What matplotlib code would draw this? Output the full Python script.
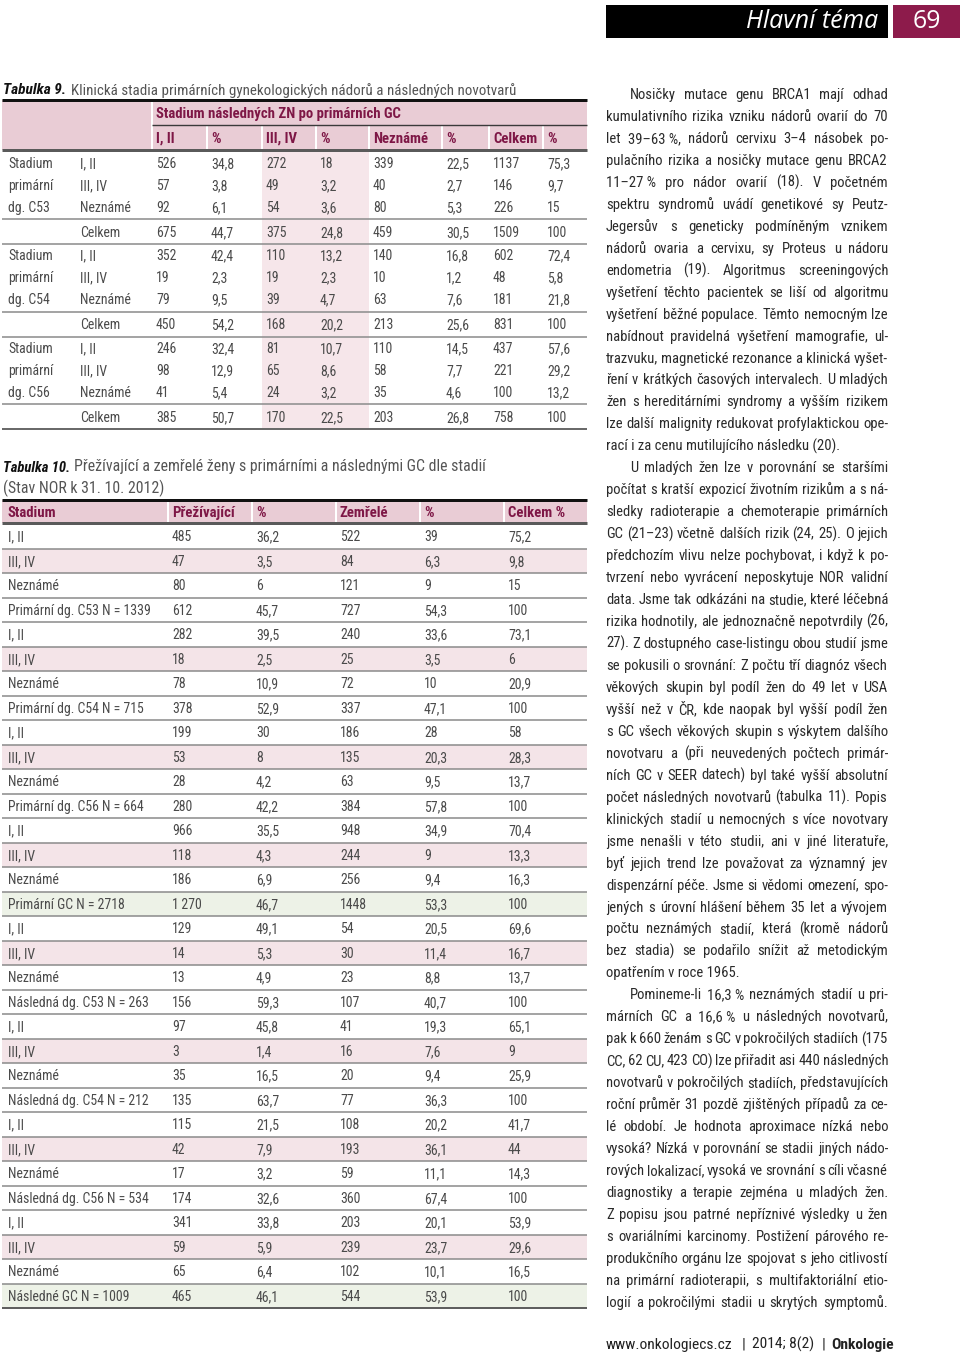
import matplotlib
matplotlib.use('Agg')
import matplotlib.pyplot as plt
from matplotlib import font_manager as fm
from matplotlib.patches import Rectangle

# ---------------------------------------------------------------- data
t9_title_lead = 'Tabulka 9.'
t9_title = 'Klinická stadia primárních gynekologických nádorů a následných novotvarů'
t9_super_header = 'Stadium následných ZN po primárních GC'
t9_columns = ['I, II', '%', 'III, IV', '%', 'Neznámé', '%', 'Celkem', '%']
t9_row_stages = ['I, II', 'III, IV', 'Neznámé', 'Celkem']
t9_group_labels = [['Stadium', 'primární', 'dg. C53'],
                   ['Stadium', 'primární', 'dg. C54'],
                   ['Stadium', 'primární', 'dg. C56']]
t9_c53 = [[526, 34.8, 272, 18, 339, 22.5, 1137, 75.3],
          [57, 3.8, 49, 3.2, 40, 2.7, 146, 9.7],
          [92, 6.1, 54, 3.6, 80, 5.3, 226, 15],
          [675, 44.7, 375, 24.8, 459, 30.5, 1509, 100]]
t9_c54 = [[352, 42.4, 110, 13.2, 140, 16.8, 602, 72.4],
          [19, 2.3, 19, 2.3, 10, 1.2, 48, 5.8],
          [79, 9.5, 39, 4.7, 63, 7.6, 181, 21.8],
          [450, 54.2, 168, 20.2, 213, 25.6, 831, 100]]
t9_c56 = [[246, 32.4, 81, 10.7, 110, 14.5, 437, 57.6],
          [98, 12.9, 65, 8.6, 58, 7.7, 221, 29.2],
          [41, 5.4, 24, 3.2, 35, 4.6, 100, 13.2],
          [385, 50.7, 170, 22.5, 203, 26.8, 758, 100]]

t10_title_lead = 'Tabulka 10.'
t10_title = 'Přežívající a zemřelé ženy s primárními a následnými GC dle stadií'
t10_title2 = '(Stav NOR k 31. 10. 2012)'
t10_columns = ['Stadium', 'Přežívající', '%', 'Zemřelé', '%', 'Celkem %']
t10_labels = ['I, II', 'III, IV', 'Neznámé', 'Primární dg. C53 N = 1339',
              'I, II', 'III, IV', 'Neznámé', 'Primární dg. C54 N = 715',
              'I, II', 'III, IV', 'Neznámé', 'Primární dg. C56 N = 664',
              'I, II', 'III, IV', 'Neznámé', 'Primární GC N = 2718',
              'I, II', 'III, IV', 'Neznámé', 'Následná dg. C53 N = 263',
              'I, II', 'III, IV', 'Neznámé', 'Následná dg. C54 N = 212',
              'I, II', 'III, IV', 'Neznámé', 'Následná dg. C56 N = 534',
              'I, II', 'III, IV', 'Neznámé', 'Následné GC N = 1009']
t10_surv = [485, 47, 80, 612, 282, 18, 78, 378, 199, 53, 28, 280,
            966, 118, 186, '1\u2009270', 129, 14, 13, 156, 97, 3, 35, 135,
            115, 42, 17, 174, 341, 59, 65, 465]
t10_surv_pct = [36.2, 3.5, 6, 45.7, 39.5, 2.5, 10.9, 52.9, 30, 8, 4.2, 42.2,
                35.5, 4.3, 6.9, 46.7, 49.1, 5.3, 4.9, 59.3, 45.8, 1.4, 16.5, 63.7,
                21.5, 7.9, 3.2, 32.6, 33.8, 5.9, 6.4, 46.1]
t10_dead = [522, 84, 121, 727, 240, 25, 72, 337, 186, 135, 63, 384,
            948, 244, 256, 1448, 54, 30, 23, 107, 41, 16, 20, 77,
            108, 193, 59, 360, 203, 239, 102, 544]
t10_dead_pct = [39, 6.3, 9, 54.3, 33.6, 3.5, 10, 47.1, 28, 20.3, 9.5, 57.8,
                34.9, 9, 9.4, 53.3, 20.5, 11.4, 8.8, 40.7, 19.3, 7.6, 9.4, 36.3,
                20.2, 36.1, 11.1, 67.4, 20.1, 23.7, 10.1, 53.9]
t10_total_pct = [75.2, 9.8, 15, 100, 73.1, 6, 20.9, 100, 58, 28.3, 13.7, 100,
                 70.4, 13.3, 16.3, 100, 69.6, 16.7, 13.7, 100, 65.1, 9, 25.9, 100,
                 41.7, 44, 14.3, 100, 53.9, 29.6, 16.5, 100]

header_section = 'Hlavní téma'
page_number = '69'
footer_parts = ['www.onkologiecs.cz', '|', '2014; 8(2)', '|', 'Onkologie']

NB = '\u00a0'
body_paragraphs = [
    ['Nosičky mutace genu BRCA1 mají odhad',
     'kumulativního rizika vzniku nádorů ovarií do 70',
     'let 39–63' + NB + '%, nádorů cervixu 3–4 násobek po-',
     'pulačního rizika a nosičky mutace genu BRCA2',
     '11–27' + NB + '% pro nádor ovarií (18). V početném',
     'spektru syndromů uvádí genetikové sy Peutz-',
     'Jegersův s geneticky podmíněným vznikem',
     'nádorů ovaria a cervixu, sy Proteus u nádoru',
     'endometria (19). Algoritmus screeningových',
     'vyšetření těchto pacientek se liší od algoritmu',
     'vyšetření běžné populace. Těmto nemocným lze',
     'nabídnout pravidelná vyšetření mamografie, ul-',
     'trazvuku, magnetické rezonance a klinická vyšet-',
     'ření v krátkých časových intervalech. U mladých',
     'žen s hereditárními syndromy a vyšším rizikem',
     'lze další malignity redukovat profylaktickou ope-',
     'rací i za cenu mutilujícího následku (20).'],
    ['U mladých žen lze v porovnání se staršími',
     'počítat s kratší expozicí životním rizikům a s ná-',
     'sledky radioterapie a chemoterapie primárních',
     'GC (21–23) včetně dalších rizik (24, 25). O jejich',
     'předchozím vlivu nelze pochybovat, i když k po-',
     'tvrzení nebo vyvrácení neposkytuje NOR validní',
     'data. Jsme tak odkázáni na studie, které léčebná',
     'rizika hodnotily, ale jednoznačně nepotvrdily (26,',
     '27). Z dostupného case-listingu obou studií jsme',
     'se pokusili o srovnání: Z počtu tří diagnóz všech',
     'věkových skupin byl podíl žen do 49 let v USA',
     'vyšší než v ČR, kde naopak byl vyšší podíl žen',
     's GC všech věkových skupin s výskytem dalšího',
     'novotvaru a (při neuvedených počtech primár-',
     'ních GC v SEER datech) byl také vyšší absolutní',
     'počet následných novotvarů (tabulka 11). Popis',
     'klinických stadií u nemocných s více novotvary',
     'jsme nenašli v této studii, ani v jiné literatuře,',
     'byť jejich trend lze považovat za významný jev',
     'dispenzární péče. Jsme si vědomi omezení, spo-',
     'jených s úrovní hlášení během 35 let a vývojem',
     'počtu neznámých stadií, která (kromě nádorů',
     'bez stadia) se podařilo snížit až metodickým',
     'opatřením v roce 1965.'],
    ['Pomineme-li 16,3' + NB + '% neznámých stadií u pri-',
     'márních GC a 16,6' + NB + '% u následných novotvarů,',
     'pak k 660 ženám s GC v pokročilých stadiích (175',
     'CC, 62 CU, 423 CO) lze přiřadit asi 440 následných',
     'novotvarů v pokročilých stadiích, představujících',
     'roční průměr 31 pozdě zjištěných případů za ce-',
     'lé období. Je hodnota aproximace nízká nebo',
     'vysoká? Nízká v porovnání se stadii jiných nádo-',
     'rových lokalizací, vysoká ve srovnání s cíli včasné',
     'diagnostiky a terapie zejména u mladých žen.',
     'Z popisu jsou patrné nepříznivé výsledky u žen',
     's ovariálními karcinomy. Postižení párového re-',
     'produkčního orgánu lze spojovat s jeho citlivostí',
     'na primární radioterapii, s multifaktoriální etio-',
     'logií a pokročilými stadii u skrytých symptomů.'],
]
ragged_last = [True, True, False]

# ---------------------------------------------------------------- setup
def pick(names):
    for n in names:
        try:
            fm.findfont(fm.FontProperties(family=n), fallback_to_default=False)
            return n
        except Exception:
            pass
    return 'DejaVu Sans'

NARROW = pick(['Liberation Sans Narrow', 'Roboto Condensed', 'Open Sans Condensed', 'Roboto', 'Lato'])
WIDE = pick(['Open Sans', 'Noto Sans', 'Lato', 'DejaVu Sans'])

MAROON_TXT = '#7e1746'
MAROON_BOX = '#8d1b4b'
PINK_HEAD = '#e9ccd5'
PINK_COL = '#f6e6ea'
PINK_ROW = '#f4e4e8'
GREEN_ROW = '#edf2e7'
GRID = '#8f8f8f'
TXT = '#4a4a4a'
BODY = '#2a2a2a'

W, H = 960, 1356
fig = plt.figure(figsize=(W / 100, H / 100), dpi=100)
fig.patch.set_facecolor('white')
ax = fig.add_axes([0, 0, 1, 1])
ax.set_xlim(0, W)
ax.set_ylim(H, 0)
ax.axis('off')
R = fig.canvas.get_renderer()


def T(x, y, s, px, fam=None, weight='normal', style='normal', color=TXT, ha='left'):
    fam = fam or [NARROW, 'DejaVu Sans']
    return ax.text(x, y, s, fontsize=px * 0.72, family=fam, fontweight=weight,
                   fontstyle=style, color=color, ha=ha, va='baseline')


def tw(s, px, **kw):
    t = T(0, 0, s, px, **kw)
    w = t.get_window_extent(R).width
    t.remove()
    return w


def fit(s, target, **kw):
    return 20 * target / tw(s, 20, **kw)


def rect(x, y, w, h, c):
    ax.add_patch(Rectangle((x, y), w, h, facecolor=c, edgecolor='none', lw=0))


def hline(y, x0, x1, c, px):
    ax.plot([x0, x1], [y, y], color=c, lw=px * 0.72, solid_capstyle='butt')


def vline(x, y0, y1, c, px):
    ax.plot([x, x], [y0, y1], color=c, lw=px * 0.72, solid_capstyle='butt')


def fmt(v):
    if isinstance(v, str):
        return v
    if float(v).is_integer():
        return str(int(v))
    return str(v).replace('.', ',')


# ---------------------------------------------------------------- page header
rect(606, 5, 282, 33, 'black')
rect(893, 5, 67, 33, MAROON_BOX)
hs = fit(header_section, 132, fam=[WIDE], style='italic')
T(878, 28.5, header_section, hs, fam=[WIDE], style='italic', color='white', ha='right')
T(927, 28.5, page_number, hs, fam=[WIDE], color='white', ha='center')

# ---------------------------------------------------------------- table font size
TS = fit('Primární dg. C53 N = 1339', 142)
BL = 0.36 * TS  # baseline offset from visual centre

# ---------------------------------------------------------------- table 9
X0, X1 = 2, 587
lead_s = fit(t9_title_lead, 63, weight='bold', style='italic')
T(3, 94.5, t9_title_lead, lead_s, weight='bold', style='italic', color='#111111')
T(71, 94.5, t9_title, fit(t9_title, 443), color='#555555')

t9_colx = [8, 80, 156, 211, 266, 320, 373, 446, 493, 547]
rect(X0, 100, X1 - X0, 50, PINK_HEAD)
rect(262, 150, 107, 279, PINK_COL)
vline(152, 100, 150, 'white', 2)
for cx in t9_colx[3:]:
    vline(cx - 4.5, 125, 150, 'white', 2)
hline(100, X0, X1, '#111111', 3)
hline(125, 152, X1, '#3a3a3a', 1.4)
hline(150, X0, X1, '#5a5a5a', 3)
HS = fit(t9_super_header, 246, weight='bold')
T(156, 118, t9_super_header, HS, weight='bold', color=MAROON_TXT)
for cx, lab in zip(t9_colx[2:], t9_columns):
    T(cx, 143, lab, HS, weight='bold', color=MAROON_TXT)

for g, (vals, glabels) in enumerate(zip([t9_c53, t9_c54, t9_c56], t9_group_labels)):
    base = 163 + 92.5 * g
    row_y = [base, base + 22, base + 44, base + 69]
    for r, (stage, rowvals) in enumerate(zip(t9_row_stages, vals)):
        yb = row_y[r] + BL
        if r < 3:
            T(t9_colx[0], yb, glabels[r], TS)
        T(t9_colx[1], yb, stage, TS)
        for cx, v in zip(t9_colx[2:], rowvals):
            T(cx, yb, fmt(v), TS)
    hline(base + 56, X0, X1, GRID, 1.6)
    hline(base + 81, X0, X1, GRID if g < 2 else '#6a6a6a', 1.6 if g < 2 else 2)

# ---------------------------------------------------------------- table 10
lead10 = fit(t10_title_lead, 67, weight='bold', style='italic')
T(3, 471.5, t10_title_lead, lead10, weight='bold', style='italic', color='#111111')
t10s = fit(t10_title, 411)
T(74, 471.5, t10_title, t10s, color='#555555')
T(3, 493.5, t10_title2, t10s, color='#555555')

t10_colx = [8, 172, 256, 340, 424, 508]
rect(X0, 500, X1 - X0, 23, PINK_HEAD)
for cx in t10_colx[1:]:
    vline(cx - 4.5, 500, 523, 'white', 2)
hline(500, X0, X1, '#111111', 3)
hline(523, X0, X1, '#5a5a5a', 3)
for cx, lab in zip(t10_colx, t10_columns):
    T(cx, 512 + BL, lab, HS, weight='bold', color=MAROON_TXT)

step = 24.5
n = len(t10_labels)
for i, lab in enumerate(t10_labels):
    yc = 536.5 + step * i
    if lab == 'III, IV':
        rect(X0, yc - step / 2, X1 - X0, step, PINK_ROW)
    elif 'GC N' in lab:
        rect(X0, yc - step / 2, X1 - X0, step, GREEN_ROW)
    row = [lab, fmt(t10_surv[i]), fmt(t10_surv_pct[i]), fmt(t10_dead[i]),
           fmt(t10_dead_pct[i]), fmt(t10_total_pct[i])]
    for cx, s in zip(t10_colx, row):
        T(cx, yc + BL, s, TS)
    last = i == n - 1
    hline(yc + step / 2, X0, X1, '#5f5f5f' if last else GRID, 2 if last else 1.6)

# ---------------------------------------------------------------- body text (justified)
CX0, CX1 = 606, 888
INDENT = 24
LEAD = 21.96
REF = 20.0
SPACE_REF = tw('n n', REF) - tw('nn', REF)
MIN_GAP_F = 0.75

layout = []
needed_sizes = []
for p in body_paragraphs:
    for j, line in enumerate(p):
        words = line.split(' ')
        ws = [tw(w_, REF) for w_ in words]
        ng = max(len(words) - 1, 1)
        x_start = CX0 + (INDENT if j == 0 else 0)
        avail = CX1 - x_start
        need = sum(ws) + ng * MIN_GAP_F * SPACE_REF
        needed_sizes.append(REF * avail / need)
        layout.append((words, ws, ng, x_start, avail))
BS = min(15.5, min(needed_sizes))

k = 0
for p, rag in zip(body_paragraphs, ragged_last):
    for j, line in enumerate(p):
        words, ws_ref, ng, x_start, avail = layout[k]
        yb = 99 + LEAD * k
        ws = [w_ * BS / REF for w_ in ws_ref]
        last = j == len(p) - 1
        if last and rag:
            T(x_start, yb, line, BS, color=BODY)
        else:
            gap = (avail - sum(ws)) / ng
            x = x_start
            for w_, wd in zip(words, ws):
                T(x, yb, w_, BS, color=BODY)
                x += wd + gap
        k += 1

# ---------------------------------------------------------------- footer
FS = fit(footer_parts[0], 126)
footer_x = [606, 742, 752, 822, 831]
for xp, part in zip(footer_x, footer_parts):
    bold = part == 'Onkologie'
    T(xp, 1349, part, FS, weight='bold' if bold else 'normal', color='#222222')

fig.savefig('out.png', dpi=100, facecolor='white')
